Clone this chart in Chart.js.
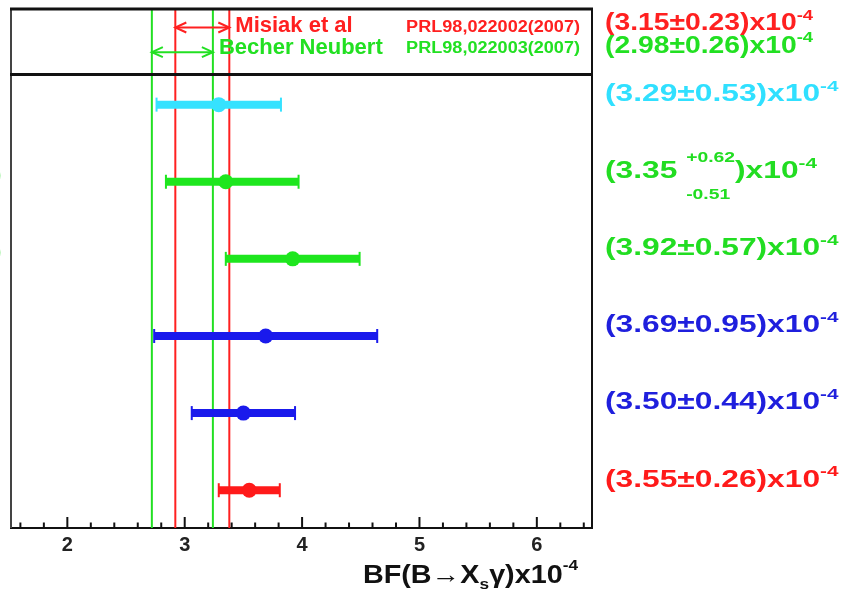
<!DOCTYPE html>
<html>
  <head>
    <meta charset="utf-8">
    <title>BF(B→Xsγ) measurements</title>
    <script src="https://cdn.jsdelivr.net/npm/chart.js@4.4.1/dist/chart.umd.min.js"></script>
    <style>body { margin: 0; background: #fff; }</style>
  </head>
  <body>
    <canvas id="chart" width="846" height="593"></canvas>

    <script type="text/javascript">
      // measurements, top row first
      const rows = [6, 5, 4, 3, 2, 1];
      const values = [3.29, 3.35, 3.92, 3.69, 3.50, 3.55];
      const errUp = [0.53, 0.62, 0.57, 0.95, 0.44, 0.26];
      const errDown = [0.53, 0.51, 0.57, 0.95, 0.44, 0.26];
      const rowColors = ['#36e2ff', '#1ee61e', '#1ee61e', '#1a1aec', '#1a1aec', '#ff1a1a'];
      const textColors = ['#30e0ff', '#22dd22', '#22dd22', '#1f1fdd', '#1f1fdd', '#ff1a1a'];

      // theory predictions (header)
      const theoryNames = ['Misiak et al', 'Becher Neubert'];
      const theoryRefs = ['PRL98,022002(2007)', 'PRL98,022003(2007)'];
      const theoryValues = [3.15, 2.98];
      const theoryErrs = [0.23, 0.26];
      const theoryColors = ['#ff2020', '#22e022'];
      const theoryRows = [7.0, 6.68];

      const xTicks = [2, 3, 4, 5, 6];
      const xMin = 1.52, xMax = 6.47;
      const yMin = 0.51, yMax = 7.24, headerLine = 6.39;

      const FONT = '"Liberation Sans", Arial, sans-serif';

      // draw text pieces left to right; part = [text, size, dy, hold]
      function drawRich(ctx, x, y, parts, color, sx, align) {
        ctx.save();
        ctx.fillStyle = color;
        ctx.textBaseline = 'middle';
        let w = 0, held = 0;
        parts.forEach(p => {
          ctx.font = 'bold ' + p[1] + 'px ' + FONT;
          const pw = ctx.measureText(p[0]).width;
          if (p[3]) { held = pw; return; }
          w += Math.max(pw, held); held = 0;
        });
        ctx.translate(align === 'right' ? x - w * sx : x, y);
        ctx.scale(sx, 1);
        let cx = 0;
        held = 0;
        parts.forEach(p => {
          ctx.font = 'bold ' + p[1] + 'px ' + FONT;
          ctx.fillText(p[0], cx, p[2] || 0);
          const pw = ctx.measureText(p[0]).width;
          if (p[3]) { held = pw; return; }
          cx += Math.max(pw, held); held = 0;
        });
        ctx.restore();
      }

      function chevron(ctx, x, y, dir) {
        ctx.beginPath();
        ctx.moveTo(x + dir * 11, y - 5);
        ctx.lineTo(x, y);
        ctx.lineTo(x + dir * 11, y + 5);
        ctx.stroke();
      }

      const decorations = {
        id: 'decorations',
        afterDraw(chart) {
          const ctx = chart.ctx;
          const a = chart.chartArea;
          const xs = chart.scales.x, ys = chart.scales.y;

          // frame
          ctx.save();
          ctx.lineWidth = 2;
          ctx.strokeStyle = '#444';
          ctx.beginPath(); ctx.moveTo(a.left, a.top); ctx.lineTo(a.left, a.bottom); ctx.stroke();
          ctx.strokeStyle = '#111';
          ctx.beginPath(); ctx.moveTo(a.right, a.top); ctx.lineTo(a.right, a.bottom); ctx.stroke();
          ctx.lineWidth = 3;
          ctx.beginPath(); ctx.moveTo(a.left - 1, a.top); ctx.lineTo(a.right + 1, a.top); ctx.stroke();
          const hy = ys.getPixelForValue(headerLine);
          ctx.beginPath(); ctx.moveTo(a.left - 1, hy); ctx.lineTo(a.right + 1, hy); ctx.stroke();

          // ticks pointing up
          ctx.lineWidth = 2;
          for (let k = 8; k <= 32; k++) {
            const px = xs.getPixelForValue(k / 5);
            const len = k % 5 === 0 ? 11 : 5.5;
            ctx.beginPath(); ctx.moveTo(px, a.bottom); ctx.lineTo(px, a.bottom - len); ctx.stroke();
          }
          ctx.restore();

          // header: arrows, names, references, values
          theoryValues.forEach((v, i) => {
            const lo = xs.getPixelForValue(v - theoryErrs[i]);
            const hi = xs.getPixelForValue(v + theoryErrs[i]);
            const y = ys.getPixelForValue(theoryRows[i]);
            ctx.save();
            ctx.strokeStyle = theoryColors[i];
            ctx.lineWidth = 2;
            ctx.beginPath(); ctx.moveTo(lo, y); ctx.lineTo(hi, y); ctx.stroke();
            chevron(ctx, lo, y, 1);
            chevron(ctx, hi, y, -1);
            ctx.restore();
            drawRich(ctx, hi + 6, i === 0 ? y - 2 : y - 4, [[theoryNames[i], 22]], theoryColors[i], 1, 'left');
            drawRich(ctx, a.right - 12, i === 0 ? y : y - 4, [[theoryRefs[i], 16]], theoryColors[i], 1.13, 'right');
            const txt = '(' + v.toFixed(2) + '\u00b1' + theoryErrs[i].toFixed(2) + ')x10';
            drawRich(ctx, a.right + 13, i === 0 ? y - 4 : y - 6, [[txt, 23], ['-4', 15, -8]], theoryColors[i], 1.23, 'left');
          });

          // right-hand result labels
          values.forEach((v, i) => {
            const y = ys.getPixelForValue(rows[i]) - 10;
            let parts;
            if (errUp[i] === errDown[i]) {
              parts = [['(' + v.toFixed(2) + '\u00b1' + errUp[i].toFixed(2) + ')x10', 23], ['-4', 15, -8]];
            } else {
              parts = [['(' + v.toFixed(2) + ' ', 23], ['+' + errUp[i].toFixed(2), 14, -14, true],
                       ['-' + errDown[i].toFixed(2), 14, 23], [')x10', 23], ['-4', 15, -8]];
            }
            drawRich(ctx, a.right + 13, y, parts, textColors[i], 1.38, 'left');
          });

          // cut-off labels at the left edge
          [5, 4].forEach(r => {
            drawRich(ctx, 1.5, ys.getPixelForValue(r) - 6, [[')', 23]], '#22dd22', 1, 'right');
          });

          // axis title
          drawRich(ctx, 578, 576, [['BF(B\u2192X', 25], ['s', 15, 9], ['\u03b3)x10', 25], ['-4', 15, -10]],
                   '#111', 1.15, 'right');
        }
      };

      const datasets = [];

      theoryValues.forEach((v, i) => {
        [v - theoryErrs[i], v + theoryErrs[i]].forEach(x => {
          datasets.push({
            data: [{ x: x, y: yMin }, { x: x, y: yMax }],
            showLine: true,
            borderColor: theoryColors[i],
            borderWidth: 2,
            pointRadius: 0,
            order: 3
          });
        });
      });

      values.forEach((v, i) => {
        datasets.push({
          data: [{ x: v - errDown[i], y: rows[i] }, { x: v + errUp[i], y: rows[i] }],
          showLine: true,
          borderColor: rowColors[i],
          borderWidth: 8,
          borderCapStyle: 'butt',
          pointStyle: 'line',
          pointRotation: 90,
          pointRadius: 7,
          pointBorderWidth: 2,
          pointBorderColor: rowColors[i],
          order: 2
        });
      });

      datasets.push({
        data: values.map((v, i) => ({ x: v, y: rows[i] })),
        pointRadius: 7.5,
        pointBackgroundColor: rowColors,
        pointBorderColor: rowColors,
        pointBorderWidth: 0,
        order: 1
      });

      const ctx = document.getElementById('chart').getContext('2d');
      const myChart = new Chart(ctx, {
        type: 'scatter',
        data: { datasets: datasets },
        options: {
          responsive: false,
          animation: false,
          events: [],
          layout: { padding: { left: 11, right: 254, top: 8, bottom: 0 } },
          plugins: { legend: { display: false }, tooltip: { enabled: false } },
          scales: {
            x: {
              type: 'linear',
              min: xMin,
              max: xMax,
              grid: { display: false },
              border: { display: true, color: '#111', width: 2 },
              afterBuildTicks: s => { s.ticks = xTicks.map(v => ({ value: v })); },
              afterFit: s => { s.height = 65; },
              ticks: {
                font: { family: FONT, size: 20, weight: 'bold' },
                color: '#222',
                padding: -3,
                maxRotation: 0
              }
            },
            y: { type: 'linear', min: yMin, max: yMax, display: false }
          }
        },
        plugins: [decorations]
      });
    </script>
  </body>
</html>
